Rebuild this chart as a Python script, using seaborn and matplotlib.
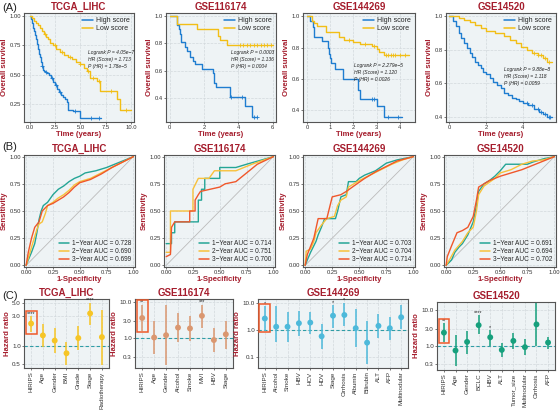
import numpy as np
import pandas as pd
import matplotlib
matplotlib.use("Agg")
import matplotlib.pyplot as plt
from matplotlib.patches import Rectangle
import seaborn as sns

# ---------------- data: (A) Kaplan-Meier ----------------
km_titles = ["TCGA_LIHC", "GSE116174", "GSE144269", "GSE14520"]

a1_high_t = [0, 0.1, 0.2, 0.3, 0.4, 0.5, 0.6, 0.7, 0.8, 0.9, 1.0, 1.1, 1.2, 1.3, 1.4, 1.5, 1.7, 1.9,
             2.1, 2.3, 2.5, 2.7, 2.9, 3.1, 3.3, 3.5, 3.7, 3.8, 4.3, 5.0, 7.0]
a1_high_s = [1.0, 0.97, 0.94, 0.90, 0.87, 0.84, 0.80, 0.76, 0.72, 0.68, 0.65, 0.61, 0.57, 0.54, 0.53,
             0.52, 0.51, 0.50, 0.47, 0.44, 0.41, 0.38, 0.35, 0.33, 0.31, 0.29, 0.27, 0.20, 0.19, 0.13, 0.13]
a1_low_t = [0, 0.2, 0.4, 0.6, 0.8, 1.0, 1.2, 1.4, 1.6, 1.8, 2.0, 2.3, 2.6, 3.0, 3.4, 3.8, 4.2, 4.6,
            5.0, 5.3, 5.6, 5.9, 6.6, 6.9, 8.6, 8.9, 10.0]
a1_low_s = [1.0, 0.98, 0.96, 0.94, 0.92, 0.90, 0.87, 0.85, 0.82, 0.80, 0.77, 0.75, 0.72, 0.69, 0.67,
            0.65, 0.63, 0.61, 0.59, 0.56, 0.53, 0.47, 0.45, 0.36, 0.29, 0.20, 0.20]
a1_high_cens = [1.2, 1.6, 2.2, 2.6, 3.0, 4.5, 6.0, 6.8]
a1_low_cens = [1.5, 2.5, 3.2, 4.0, 5.0, 5.7, 6.2, 6.8, 8.0, 9.5]

a2_high_t = [0, 0.4, 0.55, 0.6, 0.65, 0.9, 1.0, 1.2, 1.35, 1.45, 1.9, 2.5, 2.6, 2.7, 3.5, 4.4, 4.8, 5.1]
a2_high_s = [1.0, 0.935, 0.90, 0.87, 0.806, 0.77, 0.74, 0.70, 0.67, 0.645, 0.61, 0.58, 0.51, 0.48,
             0.41, 0.34, 0.26, 0.26]
a2_low_t = [0, 0.45, 1.6, 2.8, 2.95, 3.35, 6.0]
a2_low_s = [1.0, 0.94, 0.905, 0.85, 0.82, 0.785, 0.785]
a2_high_cens = [3.6, 4.2, 4.9, 5.1]
a2_low_cens = [4.1, 4.3, 4.5, 4.7, 4.9, 5.1, 5.3, 5.5, 5.7, 5.9]

a3_high_t = [0, 0.15, 0.25, 0.3, 0.63, 0.9, 0.95, 1.0, 1.05, 1.2, 1.55, 2.2, 2.3, 3.0, 3.3, 4.1]
a3_high_s = [1.0, 0.97, 0.93, 0.87, 0.84, 0.80, 0.76, 0.73, 0.70, 0.66, 0.60, 0.53, 0.47, 0.43, 0.36, 0.36]
a3_low_t = [0, 0.2, 0.3, 0.45, 0.8, 1.4, 1.6, 2.0, 2.3, 2.8, 3.0, 3.1, 3.3, 4.4]
a3_low_s = [1.0, 0.97, 0.955, 0.935, 0.90, 0.87, 0.845, 0.835, 0.825, 0.81, 0.79, 0.77, 0.75, 0.75]
a3_high_cens = [2.8, 2.9, 3.5, 3.9]
a3_low_cens = [1.8, 2.5, 2.9, 3.4, 3.5, 3.6, 3.7, 3.8, 4.0, 4.2]

a4_high_t = [0, 0.2, 0.35, 0.5, 0.65, 0.8, 0.95, 1.1, 1.25, 1.4, 1.55, 1.7, 1.85, 2.0, 2.2, 2.4, 2.6,
             2.8, 3.0, 3.2, 3.4, 3.6, 3.8, 4.0, 4.3, 4.6, 4.9, 5.1, 5.3, 5.6]
a4_high_s = [1.0, 0.97, 0.94, 0.90, 0.87, 0.84, 0.81, 0.78, 0.755, 0.73, 0.71, 0.69, 0.67, 0.655, 0.63,
             0.61, 0.59, 0.57, 0.545, 0.53, 0.515, 0.505, 0.495, 0.485, 0.47, 0.45, 0.43, 0.415, 0.40, 0.40]
a4_low_t = [0, 0.5, 0.8, 1.1, 1.4, 1.7, 2.0, 2.5, 3.0, 3.3, 3.6, 3.9, 4.2, 4.5, 4.8, 5.1, 5.3, 5.6]
a4_low_s = [1.0, 0.99, 0.98, 0.965, 0.95, 0.93, 0.91, 0.90, 0.88, 0.86, 0.84, 0.82, 0.80, 0.78, 0.77,
            0.75, 0.73, 0.73]
a4_high_cens = [4.2, 4.5, 4.8, 5.0, 5.2, 5.4, 5.5]
a4_low_cens = [4.6, 4.8, 5.0, 5.2, 5.4]

km_stats = [
    ["Logrank P = 4.05e\u22127", "HR (Score) = 1.713", "P (HR) = 1.78e\u22125"],
    ["Logrank P = 0.0003", "HR (Score) = 1.136", "P (HR) = 0.0004"],
    ["Logrank P = 2.279e\u22125", "HR (Score) = 1.120", "P (HR) = 0.0026"],
    ["Logrank P = 9.88e\u22128", "HR (Score) = 1.118", "P (HR) = 0.0059"],
]

# ---------------- data: (B) time-dependent ROC ----------------
b1_fpr1 = [0, 0.02, 0.05, 0.08, 0.1, 0.12, 0.14, 0.16, 0.2, 0.25, 0.3, 0.35, 0.4, 0.45, 0.5, 0.55, 0.65, 0.75, 0.85, 0.95, 1]
b1_tpr1 = [0, 0.05, 0.12, 0.2, 0.3, 0.42, 0.5, 0.55, 0.58, 0.65, 0.7, 0.73, 0.77, 0.8, 0.82, 0.85, 0.87, 0.9, 0.94, 0.98, 1]
b1_fpr2 = [0, 0.03, 0.06, 0.1, 0.12, 0.15, 0.18, 0.2, 0.25, 0.3, 0.35, 0.4, 0.45, 0.5, 0.6, 0.7, 0.8, 0.9, 1]
b1_tpr2 = [0, 0.1, 0.2, 0.33, 0.38, 0.4, 0.48, 0.55, 0.58, 0.62, 0.65, 0.69, 0.74, 0.77, 0.8, 0.85, 0.9, 0.95, 1]
b1_fpr3 = [0, 0.02, 0.05, 0.08, 0.12, 0.15, 0.2, 0.25, 0.3, 0.35, 0.4, 0.45, 0.5, 0.6, 0.7, 0.8, 0.9, 1]
b1_tpr3 = [0, 0.12, 0.25, 0.35, 0.4, 0.5, 0.55, 0.57, 0.6, 0.63, 0.67, 0.72, 0.76, 0.79, 0.84, 0.9, 0.95, 1]

b2_fpr1 = [0, 0.05, 0.05, 0.08, 0.08, 0.3, 0.3, 0.33, 0.33, 0.36, 0.36, 0.5, 0.5, 0.65, 0.75, 1]
b2_tpr1 = [0.2, 0.2, 0.3, 0.3, 0.4, 0.4, 0.6, 0.6, 0.7, 0.7, 0.8, 0.8, 0.9, 0.9, 0.93, 1]
b2_fpr2 = [0, 0.04, 0.04, 0.25, 0.25, 0.3, 0.4, 0.45, 0.65, 0.8, 1]
b2_tpr2 = [0.12, 0.12, 0.5, 0.5, 0.7, 0.8, 0.8, 0.87, 0.87, 0.93, 1]
b2_fpr3 = [0, 0.04, 0.05, 0.08, 0.22, 0.22, 0.27, 0.27, 0.3, 0.32, 0.5, 0.55, 0.65, 0.75, 0.85, 1]
b2_tpr3 = [0.08, 0.1, 0.35, 0.4, 0.4, 0.5, 0.5, 0.6, 0.65, 0.68, 0.72, 0.75, 0.77, 0.85, 0.93, 1]

b3_fpr1 = [0, 0.02, 0.05, 0.08, 0.1, 0.12, 0.15, 0.18, 0.28, 0.3, 0.33, 0.38, 0.4, 0.47, 0.5, 0.55, 0.65, 0.75, 0.85, 1]
b3_tpr1 = [0, 0.05, 0.12, 0.18, 0.22, 0.28, 0.35, 0.43, 0.43, 0.5, 0.63, 0.65, 0.77, 0.77, 0.8, 0.83, 0.87, 0.94, 0.97, 1]
b3_fpr2 = [0, 0.01, 0.05, 0.08, 0.1, 0.15, 0.2, 0.27, 0.3, 0.33, 0.38, 0.4, 0.5, 0.6, 0.7, 0.8, 0.9, 1]
b3_tpr2 = [0, 0.13, 0.15, 0.22, 0.3, 0.37, 0.43, 0.45, 0.55, 0.6, 0.63, 0.72, 0.78, 0.83, 0.88, 0.93, 0.97, 1]
b3_fpr3 = [0, 0.02, 0.08, 0.12, 0.2, 0.25, 0.33, 0.38, 0.45, 0.55, 0.65, 0.75, 0.85, 1]
b3_tpr3 = [0, 0.1, 0.25, 0.43, 0.43, 0.63, 0.65, 0.68, 0.73, 0.8, 0.86, 0.91, 0.96, 1]

b4_fpr1 = [0, 0.05, 0.08, 0.12, 0.15, 0.2, 0.25, 0.28, 0.3, 0.35, 0.4, 0.45, 0.5, 0.55, 0.75, 0.8, 0.9, 1]
b4_tpr1 = [0, 0.05, 0.12, 0.17, 0.2, 0.28, 0.4, 0.55, 0.68, 0.75, 0.78, 0.82, 0.87, 0.93, 0.93, 0.95, 0.98, 1]
b4_fpr2 = [0, 0.03, 0.08, 0.15, 0.2, 0.25, 0.28, 0.3, 0.35, 0.45, 0.5, 0.6, 0.7, 0.8, 0.9, 1]
b4_tpr2 = [0, 0.05, 0.14, 0.22, 0.3, 0.35, 0.5, 0.65, 0.73, 0.8, 0.85, 0.88, 0.93, 0.96, 0.97, 1]
b4_fpr3 = [0, 0.01, 0.05, 0.1, 0.15, 0.2, 0.25, 0.28, 0.3, 0.4, 0.5, 0.6, 0.7, 0.8, 0.9, 1]
b4_tpr3 = [0, 0.08, 0.18, 0.3, 0.32, 0.35, 0.45, 0.6, 0.72, 0.78, 0.82, 0.85, 0.88, 0.92, 0.96, 1]

auc_values = [
    [0.728, 0.690, 0.699],
    [0.714, 0.751, 0.700],
    [0.703, 0.704, 0.714],
    [0.691, 0.694, 0.702],
]

# ---------------- data: (C) forest plots ----------------
c1_vars = ["HIRIPS", "Age", "Gender", "BMI", "Grade", "Stage", "Radiotherapy"]
c1_hr = [2.3, 1.47, 1.21, 0.75, 1.33, 3.37, 1.38]
c1_lo = [1.67, 0.94, 0.75, 0.48, 0.86, 2.15, 0.48]
c1_hi = [3.0, 2.3, 1.95, 1.14, 2.07, 5.0, 3.9]
c1_sig = ["****", "", "", "", "", "****", ""]

c2_vars = ["HIRIPS", "Age", "Gender", "Alcohol", "Smoke", "MVI", "HBV", "Stage"]
c2_hr = [3.7, 1.06, 1.23, 2.0, 1.9, 4.25, 0.9, 1.3]
c2_lo = [1.6, 0.37, 0.18, 0.78, 0.86, 1.9, 0.42, 0.5]
c2_hi = [8.6, 3.0, 8.6, 5.2, 4.1, 8.6, 2.0, 3.1]
c2_sig = ["**", "", "", "", "", "***", "", ""]

c3_vars = ["HIRIPS", "Alcohol", "Smoke", "HBV", "HCV", "HDV", "Stage", "Cirrhosis", "Albumin",
           "Bilirubin", "ALT", "AFP", "Multinodular"]
c3_hr = [2.6, 1.3, 1.3, 1.75, 1.85, 0.58, 3.3, 3.5, 1.15, 0.34, 1.4, 1.15, 2.9]
c3_lo = [0.92, 0.35, 0.37, 0.6, 0.68, 0.2, 1.2, 1.4, 0.23, 0.055, 0.51, 0.43, 1.1]
c3_hi = [7.6, 7.6, 4.5, 4.9, 4.5, 1.6, 8.2, 10.0, 5.6, 2.2, 3.9, 3.0, 8.2]
c3_sig = ["*", "", "", "", "", "", "*", "*", "", "", "", "", ""]

c4_vars = ["HIRIPS", "Age", "Gender", "BCLC", "HBV", "ALT", "Tumor_size", "Multinodular",
           "Cirrhosis", "AFP"]
c4_hr = [2.35, 0.74, 1.29, 3.8, 1.74, 0.77, 1.38, 0.92, 4.0, 1.24]
c4_lo = [1.32, 0.27, 0.6, 2.1, 1.0, 0.5, 0.84, 0.55, 1.0, 0.81]
c4_hi = [4.3, 2.0, 2.6, 7.4, 2.8, 1.24, 2.25, 1.53, 16.0, 1.8]
c4_sig = ["**", "", "", "****", "*", "", "", "", "", ""]

# ---------------- style ----------------
TITLE_RED = "#A51D2D"
BLUE = "#1F7DD0"
YELLOW = "#F2BE16"
ROC_COLS = ["#24A596", "#F8C13B", "#F0572B"]
BOX_RED = "#EE5A2A"
W, H = 560, 411

sns.set_theme(style="whitegrid", rc={
    "axes.facecolor": "#EEF3F5",
    "axes.edgecolor": "#555555",
    "axes.linewidth": 0.8,
    "grid.color": "#D2D8DC",
    "grid.linestyle": "--",
    "grid.linewidth": 0.5,
    "xtick.bottom": True,
    "ytick.left": True,
    "xtick.major.size": 1.5,
    "ytick.major.size": 1.5,
    "xtick.major.width": 0.5,
    "ytick.major.width": 0.5,
    "xtick.major.pad": 1,
    "ytick.major.pad": 0.8,
})
plt.rcParams["font.family"] = ["Liberation Sans", "DejaVu Sans"]

fig = plt.figure(figsize=(W / 100, H / 100), dpi=100)


def add_ax(l, t, r, b):
    return fig.add_axes([l / W, 1 - b / H, (r - l) / W, (b - t) / H])


def style_ax(ax, title, xlabel, ylabel, tick_size=4.2):
    ax.set_title(title, color=TITLE_RED, fontsize=7, fontweight="bold", pad=2.5)
    ax.set_xlabel(xlabel, color=TITLE_RED, fontsize=5.6, fontweight="bold", labelpad=0.5)
    ax.set_ylabel(ylabel, color=TITLE_RED, fontsize=5.6, fontweight="bold", labelpad=1)
    ax.tick_params(labelsize=tick_size, colors="#444444")
    ax.tick_params(axis="both", labelcolor="#333333")
    for sp in ax.spines.values():
        sp.set_color("#555555")
        sp.set_linewidth(0.8)


def step_at(ts, ss, x):
    idx = np.searchsorted(ts, x, side="right") - 1
    return np.array(ss)[idx]


# ---------------- (A) ----------------
km_data = [
    (a1_high_t, a1_high_s, a1_low_t, a1_low_s, a1_high_cens, a1_low_cens),
    (a2_high_t, a2_high_s, a2_low_t, a2_low_s, a2_high_cens, a2_low_cens),
    (a3_high_t, a3_high_s, a3_low_t, a3_low_s, a3_high_cens, a3_low_cens),
    (a4_high_t, a4_high_s, a4_low_t, a4_low_s, a4_high_cens, a4_low_cens),
]
a_x = [(24, 134), (166, 276), (303, 415), (446, 556)]
a_xlim = [(-0.55, 10.26), (-0.22, 6.2), (-0.17, 4.65), (-0.18, 5.8)]
a_ylim = [(0.097, 1.025), (0.225, 1.02), (0.325, 1.02), (0.37, 1.02)]
a_xticks = [[0, 2.5, 5, 7.5, 10], [0, 2, 4, 6], [0, 1, 2, 3, 4], [0, 2, 4]]
a_yticks = [[0.25, 0.5, 0.75, 1.0], [0.4, 0.6, 0.8, 1.0], [0.4, 0.6, 0.8, 1.0], [0.4, 0.6, 0.8, 1.0]]
a_txt = [(0.58, 0.64), (0.59, 0.64), (0.455, 0.52), (0.53, 0.48)]

for i in range(4):
    ht, hs, lt, ls, hc, lc = km_data[i]
    ax = add_ax(a_x[i][0], 13, a_x[i][1], 122)
    df = pd.concat([
        pd.DataFrame({"time": ht, "surv": hs, "group": "High score"}),
        pd.DataFrame({"time": lt, "surv": ls, "group": "Low score"}),
    ])
    sns.lineplot(data=df, x="time", y="surv", hue="group", palette=[BLUE, YELLOW],
                 drawstyle="steps-post", estimator=None, sort=False, lw=1.0, ax=ax)
    ax.plot(hc, step_at(ht, hs, hc), "+", color=BLUE, ms=3.2, mew=0.6)
    ax.plot(lc, step_at(lt, ls, lc), "+", color=YELLOW, ms=3.2, mew=0.6)
    ax.set_xlim(*a_xlim[i])
    ax.set_ylim(*a_ylim[i])
    ax.set_xticks(a_xticks[i])
    ax.set_yticks(a_yticks[i])
    if i == 0:
        ax.set_xticklabels(["0.0", "2.5", "5.0", "7.5", "10.0"])
        ax.set_yticklabels(["0.25", "0.50", "0.75", "1.00"])
    else:
        ax.set_yticklabels([f"{v:.1f}" for v in a_yticks[i]])
    style_ax(ax, km_titles[i], "Time (years)", "Overall survival")
    leg = ax.legend(loc="upper right", frameon=False, fontsize=5, handlelength=1.6,
                    handletextpad=0.4, borderaxespad=0.2, labelspacing=0.15)
    for ln in leg.get_lines():
        ln.set_linewidth(1.1)
    tx, ty = a_txt[i]
    for k, s in enumerate(km_stats[i]):
        ax.text(tx, ty - k * 0.065, s, transform=ax.transAxes, fontsize=3.6,
                style="italic", color="#222222", va="center")

# ---------------- (B) ----------------
roc_data = [
    [(b1_fpr1, b1_tpr1), (b1_fpr2, b1_tpr2), (b1_fpr3, b1_tpr3)],
    [(b2_fpr1, b2_tpr1), (b2_fpr2, b2_tpr2), (b2_fpr3, b2_tpr3)],
    [(b3_fpr1, b3_tpr1), (b3_fpr2, b3_tpr2), (b3_fpr3, b3_tpr3)],
    [(b4_fpr1, b4_tpr1), (b4_fpr2, b4_tpr2), (b4_fpr3, b4_tpr3)],
]
b_x = [(24, 135), (164, 275), (303, 415), (444, 556)]
for i in range(4):
    ax = add_ax(b_x[i][0], 155, b_x[i][1], 267)
    ax.plot([0, 1], [0, 1], color="#BBBBBB", lw=0.6)
    frames = []
    for k, (fx, fy) in enumerate(roc_data[i]):
        lab = f"{k + 1}\u2212Year AUC = {auc_values[i][k]:.3f}"
        frames.append(pd.DataFrame({"fpr": fx, "tpr": fy, "year": lab}))
    df = pd.concat(frames)
    sns.lineplot(data=df, x="fpr", y="tpr", hue="year", palette=ROC_COLS,
                 estimator=None, sort=False, lw=1.0, ax=ax)
    ax.set_xlim(-0.02, 1.015)
    ax.set_ylim(-0.015, 1.015)
    ticks = [0, 0.25, 0.5, 0.75, 1.0]
    ax.set_xticks(ticks)
    ax.set_yticks(ticks)
    ax.set_xticklabels([f"{v:.2f}" for v in ticks])
    ax.set_yticklabels([f"{v:.2f}" for v in ticks])
    style_ax(ax, km_titles[i], "1-Specificity", "Sensitivity")
    leg = ax.legend(loc="lower right", frameon=False, fontsize=4.7, handlelength=1.6,
                    handletextpad=0.4, borderaxespad=0.2, labelspacing=0.15)
    for ln in leg.get_lines():
        ln.set_linewidth(1.1)

# ---------------- (C) ----------------
forest = [
    (c1_vars, c1_hr, c1_lo, c1_hi, c1_sig, "#F6C526", [0.5, 1.0, 3.0, 5.0], (0.43, 5.8)),
    (c2_vars, c2_hr, c2_lo, c2_hi, c2_sig, "#DA9770", [0.3, 1.0, 3.0, 10.0], (0.15, 12.5)),
    (c3_vars, c3_hr, c3_lo, c3_hi, c3_sig, "#4DB9DA", [0.1, 1.0, 10.0], (0.04, 13.5)),
    (c4_vars, c4_hr, c4_lo, c4_hi, c4_sig, "#16A07D", [0.3, 1.0, 3.0, 10.0], (0.21, 17.0)),
]
c_pos = [(24, 299, 109, 368), (135, 299, 233, 368), (258, 299, 408, 368), (437, 302, 555, 370)]
box_y = [(1.56, 3.75), (1.52, 11.8), (0.8, 9.1), (1.19, 5.5)]

for i in range(4):
    names, hr, lo, hi, sig, col, yt, yl = forest[i]
    ax = add_ax(*c_pos[i])
    df = pd.DataFrame({"var": names, "hr": hr, "lo": lo, "hi": hi, "sig": sig})
    df["pos"] = np.arange(len(df))
    ax.set_yscale("log")
    ax.axhline(1.0, color="#2F9DA6", lw=0.8, ls="--", dashes=(3, 2))
    ax.vlines(df["pos"], df["lo"], df["hi"], color=col, lw=1.3, alpha=0.85)
    sns.scatterplot(data=df, x="pos", y="hr", color=col, s=18, edgecolor="none", ax=ax,
                    zorder=3)
    for _, r in df.iterrows():
        if r["sig"]:
            ax.text(r["pos"], r["hi"] * 1.02, r["sig"], ha="center", va="bottom",
                    fontsize=4, color="#222222")
    y0, y1 = box_y[i]
    ax.add_patch(Rectangle((-0.47, y0), 0.94, y1 - y0, fill=False, ec=BOX_RED, lw=1.1,
                           zorder=4))
    ax.set_xlim(-0.6, len(df) - 0.4)
    ax.set_ylim(*yl)
    ax.set_xticks(df["pos"])
    ax.set_xticklabels(df["var"], rotation=90)
    ax.set_yticks(yt)
    ax.set_yticklabels([f"{v:.1f}" for v in yt])
    ax.minorticks_off()
    style_ax(ax, km_titles[i], "", "Hazard ratio", tick_size=4.5)

# panel letters
fig.text(2 / W, 1 - 8 / H, "(A)", fontsize=8, va="center", color="#222222")
fig.text(2 / W, 1 - 147 / H, "(B)", fontsize=8, va="center", color="#222222")
fig.text(2 / W, 1 - 296 / H, "(C)", fontsize=8, va="center", color="#222222")

fig.savefig("out.png", dpi=100)
